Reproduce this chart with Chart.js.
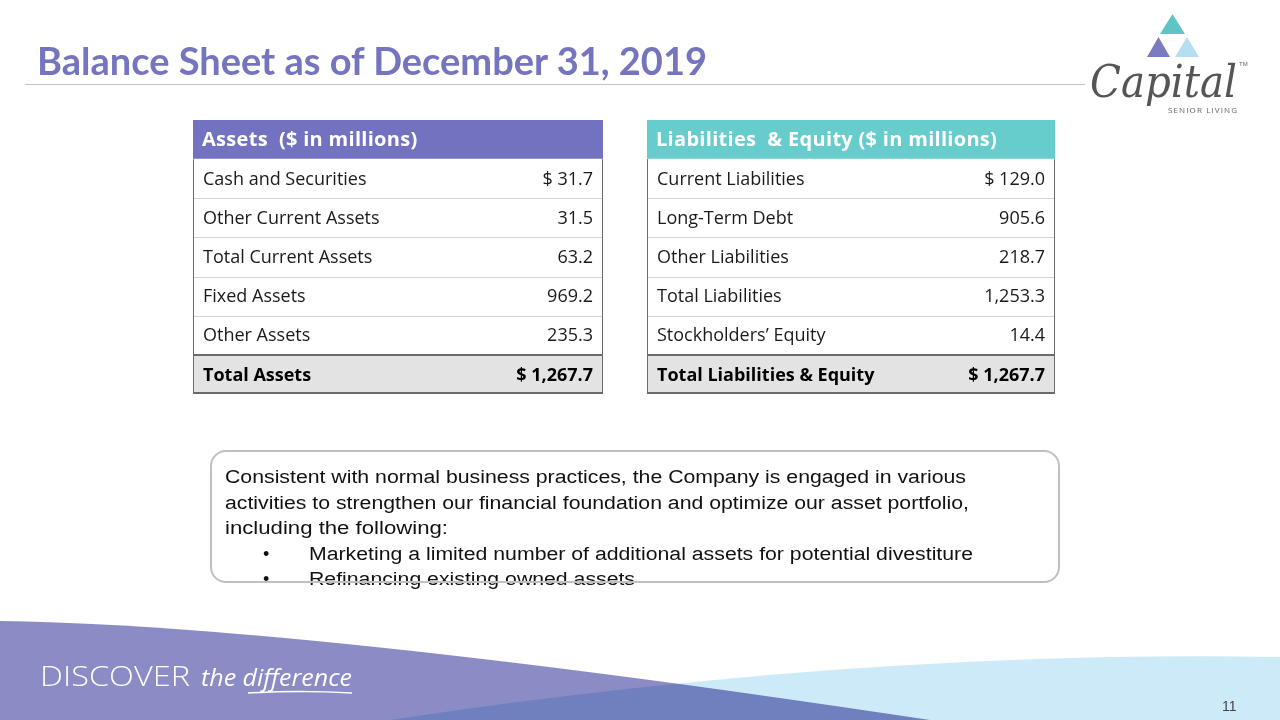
<!DOCTYPE html>
<html>
<head>
<meta charset="utf-8">
<script src="https://cdn.jsdelivr.net/npm/chart.js@4.4.1/dist/chart.umd.min.js"></script>
<style>
    html, body { margin: 0; padding: 0; background: #fff; }
    body { width: 1280px; height: 720px; position: relative; overflow: hidden; }
    #slide { position: absolute; left: 0; top: 0; }
    .table-canvas { position: absolute; }
    #assetsTable { left: 193px; top: 120px; }
    #liabTable { left: 647px; top: 120px; }
</style>
</head>
<body>
<svg id="slide" width="1280" height="720" xmlns="http://www.w3.org/2000/svg">
    <!-- title -->
    <text x="37" y="75" font-family="Lato" font-weight="700" font-size="38" fill="#7474bf"
          textLength="670" lengthAdjust="spacingAndGlyphs">Balance Sheet as of December 31, 2019</text>
    <line x1="25" y1="84.5" x2="1085" y2="84.5" stroke="#c4c4c4" stroke-width="1"/>

    <!-- logo -->
    <polygon points="1172.5,14 1185,34 1160,34" fill="#5fc4c4"/>
    <polygon points="1158.5,37 1170,57 1147,57" fill="#7b7bc0"/>
    <polygon points="1187,37 1199,57 1175,57" fill="#b4dff0"/>
    <text x="1090" y="97" font-family="DejaVu Serif" font-style="italic" font-size="44" fill="#555"
          textLength="147" lengthAdjust="spacingAndGlyphs">Capital</text>
    <text x="1239" y="66" font-family="Liberation Sans" font-size="6" fill="#666">TM</text>
    <text x="1168" y="113" font-family="Open Sans" font-size="8" fill="#666"
          textLength="69" lengthAdjust="spacing">SENIOR LIVING</text>

    <!-- note box -->
    <g font-family="Liberation Sans" font-size="18" fill="#111">
        <text x="225" y="483" textLength="741" lengthAdjust="spacingAndGlyphs">Consistent with normal business practices, the Company is engaged in various</text>
        <text x="225" y="508.5" textLength="744" lengthAdjust="spacingAndGlyphs">activities to strengthen our financial foundation and optimize our asset portfolio,</text>
        <text x="225" y="534" textLength="223" lengthAdjust="spacingAndGlyphs">including the following:</text>
        <text x="263" y="559.5">•</text>
        <text x="309" y="559.5" textLength="664" lengthAdjust="spacingAndGlyphs">Marketing a limited number of additional assets for potential divestiture</text>
        <text x="263" y="585">•</text>
        <text x="309" y="585" textLength="326" lengthAdjust="spacingAndGlyphs">Refinancing existing owned assets</text>
    </g>
    <rect x="211" y="451" width="848" height="131" rx="15" ry="15" fill="none" stroke="#c0c0c0" stroke-width="2"/>

    <!-- footer waves -->
    <path d="M0,621 Q300,625 930,720 L0,720 Z" fill="#8b8bc5"/>
    <path d="M1280,657 Q850,650 390,720 L1280,720 Z" fill="#cdeaf8" style="mix-blend-mode:multiply"/>
    <text x="40" y="686" font-family="Open Sans" font-weight="300" font-size="27" fill="#fff"
          textLength="150" lengthAdjust="spacingAndGlyphs">DISCOVER</text>
    <text x="201" y="686" font-family="Open Sans" font-style="italic" font-size="24" fill="#fff"
          textLength="151" lengthAdjust="spacingAndGlyphs">the difference</text>
    <path d="M248,693 Q300,690 352,693" stroke="#fff" stroke-width="1.5" fill="none"/>
    <text x="1222" y="711" font-family="Liberation Sans" font-size="14" fill="#444">11</text>
</svg>

<canvas id="assetsTable" class="table-canvas" width="410" height="274"></canvas>
<canvas id="liabTable" class="table-canvas" width="408" height="274"></canvas>

<script>
const assetsTitle = 'Assets  ($ in millions)';
const assetLabels = ['Cash and Securities', 'Other Current Assets', 'Total Current Assets', 'Fixed Assets', 'Other Assets', 'Total Assets'];
const assetValues = [31.7, 31.5, 63.2, 969.2, 235.3, 1267.7];

const liabTitle = 'Liabilities  & Equity ($ in millions)';
const liabLabels = ['Current Liabilities', 'Long-Term Debt', 'Other Liabilities', 'Total Liabilities', 'Stockholders\u2019 Equity', 'Total Liabilities & Equity'];
const liabValues = [129.0, 905.6, 218.7, 1253.3, 14.4, 1267.7];

// rows that carry a "$" sign
const dollarRows = [0, 5];

const totalFill = '#e3e3e3';
const textFont = '18px "Open Sans"';
const boldFont = 'bold 18px "Open Sans"';
const headFont = 'bold 20px "Open Sans"';

const fmt = (v, withDollar) => {
    const s = v.toLocaleString('en-US', { minimumFractionDigits: 1, maximumFractionDigits: 1 });
    return withDollar ? '$ ' + s : s;
};

const tableTextPlugin = (values) => ({
    id: 'tableText',
    afterDatasetsDraw(chart) {
        const { ctx, chartArea, scales: { y } } = chart;
        const rows = chart.data.labels;
        const n = rows.length;
        const left = chartArea.left;
        const right = chartArea.right;
        const edge = (i) => {
            if (i === 0) return chartArea.top;
            if (i === n) return chartArea.bottom;
            return (y.getPixelForValue(i - 1) + y.getPixelForValue(i)) / 2;
        };

        ctx.save();
        // row separators
        ctx.strokeStyle = '#d4d4d4';
        ctx.lineWidth = 1;
        for (let i = 2; i < n - 1; i++) {
            const yy = Math.round(edge(i)) + 0.5;
            ctx.beginPath();
            ctx.moveTo(left, yy);
            ctx.lineTo(right, yy);
            ctx.stroke();
        }
        // frame
        ctx.strokeStyle = '#6a6a6a';
        ctx.beginPath();
        ctx.moveTo(left + 0.5, edge(1));
        ctx.lineTo(left + 0.5, chartArea.bottom);
        ctx.moveTo(right - 0.5, edge(1));
        ctx.lineTo(right - 0.5, chartArea.bottom);
        ctx.stroke();
        ctx.lineWidth = 2;
        ctx.beginPath();
        const tEdge = Math.round(edge(n - 1));
        ctx.moveTo(left, tEdge);
        ctx.lineTo(right, tEdge);
        ctx.moveTo(left, chartArea.bottom - 1);
        ctx.lineTo(right, chartArea.bottom - 1);
        ctx.stroke();

        // text
        ctx.textBaseline = 'middle';
        rows.forEach((label, i) => {
            const cy = y.getPixelForValue(i) + 1;
            if (i === 0) {
                ctx.font = headFont;
                ctx.letterSpacing = '0.3px';
                ctx.fillStyle = '#ffffff';
                ctx.textAlign = 'left';
                ctx.fillText(label, left + 9, cy);
                ctx.letterSpacing = '0px';
                return;
            }
            const isTotal = i === n - 1;
            ctx.font = isTotal ? boldFont : textFont;
            ctx.fillStyle = isTotal ? '#000000' : '#1a1a1a';
            ctx.textAlign = 'left';
            ctx.fillText(label, left + 10, cy);
            ctx.textAlign = 'right';
            ctx.fillText(fmt(values[i - 1], dollarRows.includes(i - 1)), right - 10, cy);
        });
        ctx.restore();
    },
});

const makeTable = (id, title, labels, values, headColor) => {
    const rows = [title, ...labels];
    const fills = rows.map((_, i) => (i === 0 ? headColor : i === rows.length - 1 ? totalFill : '#ffffff'));
    return new Chart(document.getElementById(id).getContext('2d'), {
        type: 'bar',
        data: {
            labels: rows,
            datasets: [{
                data: rows.map(() => 1),
                backgroundColor: fills,
                borderWidth: 0,
                barPercentage: 1,
                categoryPercentage: 1,
            }],
        },
        options: {
            indexAxis: 'y',
            responsive: false,
            animation: false,
            events: [],
            layout: { padding: 0 },
            scales: {
                x: { display: false, min: 0, max: 1 },
                y: { display: false },
            },
            plugins: {
                legend: { display: false },
                tooltip: { enabled: false },
            },
        },
        plugins: [tableTextPlugin(values)],
    });
};

makeTable('assetsTable', assetsTitle, assetLabels, assetValues, '#7272c0');
makeTable('liabTable', liabTitle, liabLabels, liabValues, '#66cccc');
</script>
</body>
</html>
